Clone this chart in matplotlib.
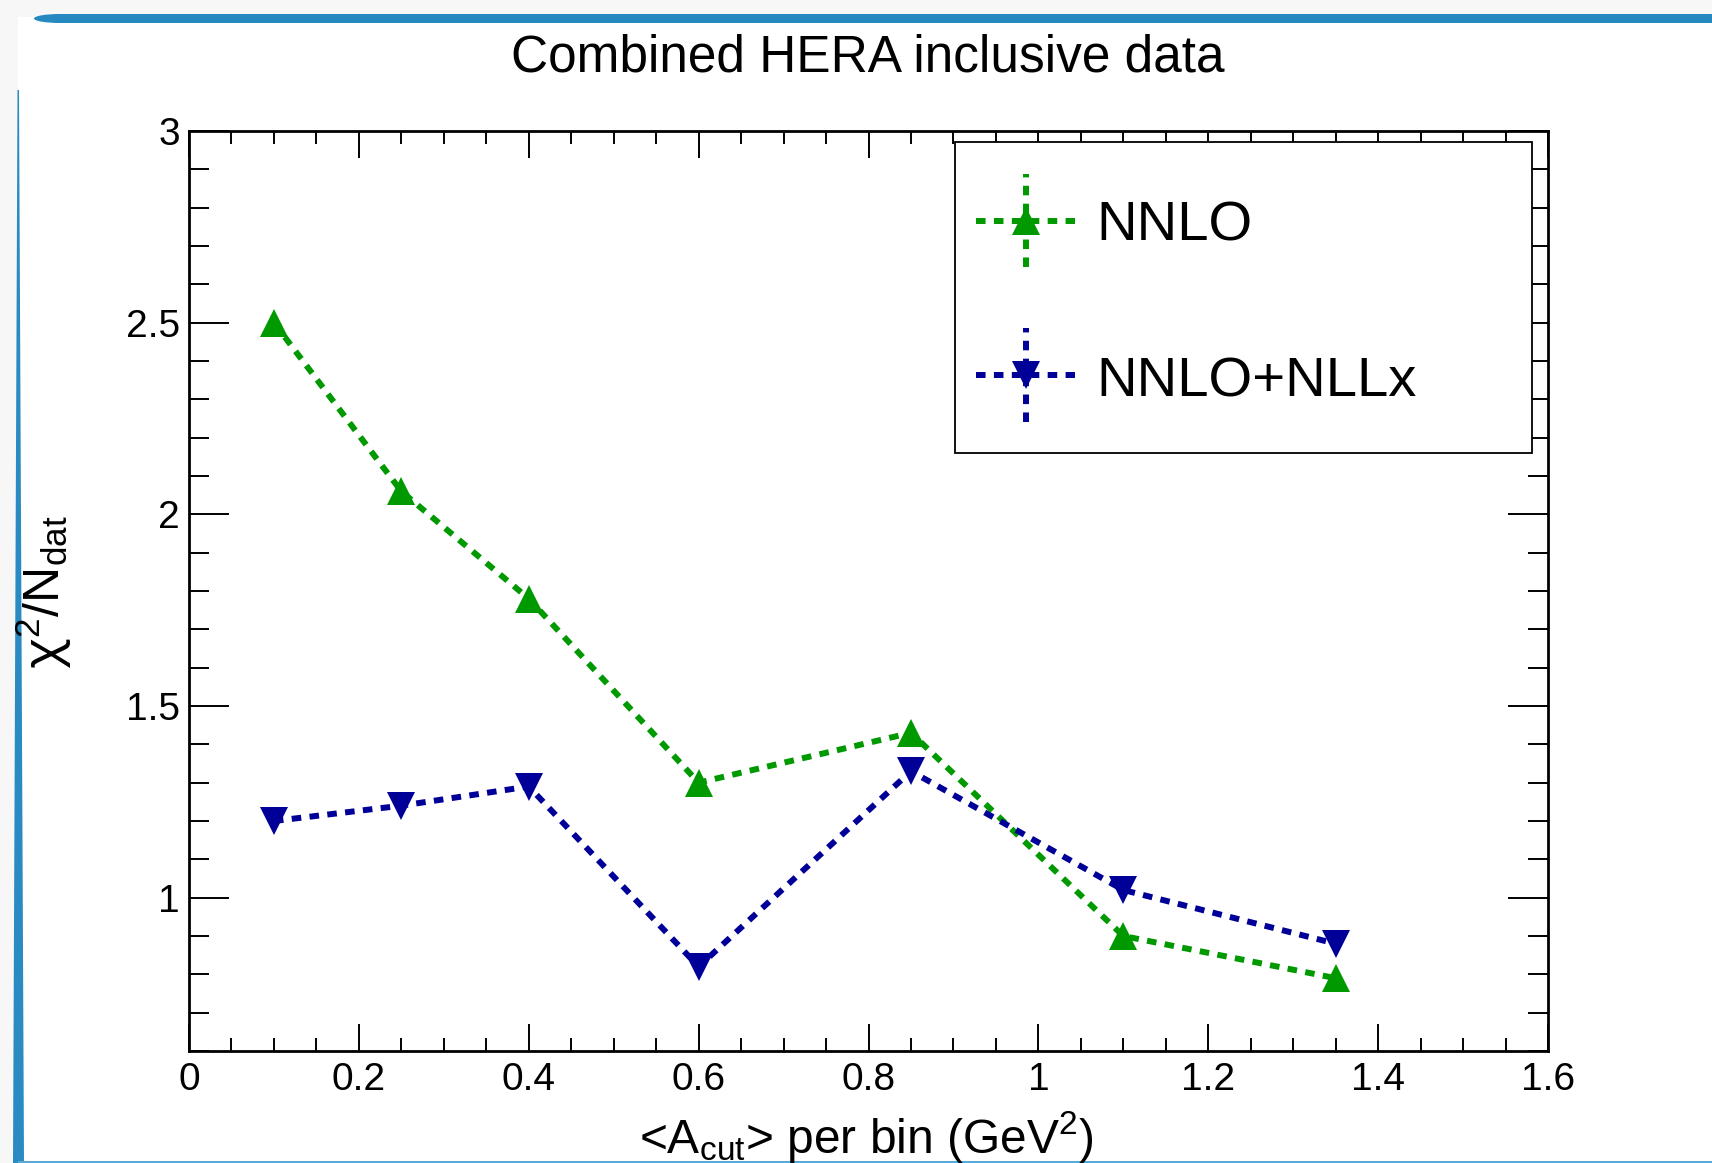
import matplotlib
matplotlib.use("Agg")
import matplotlib.pyplot as plt
from matplotlib.patches import Rectangle, Ellipse, Polygon
from matplotlib.ticker import MultipleLocator

plt.rcParams["font.family"] = ["Liberation Sans", "DejaVu Sans"]
plt.rcParams["mathtext.fontset"] = "custom"
plt.rcParams["mathtext.rm"] = "Liberation Sans"
plt.rcParams["mathtext.it"] = "Noto Sans"
plt.rcParams["mathtext.bf"] = "Liberation Sans:bold"

# values
a_cut = [0.1, 0.25, 0.4, 0.6, 0.85, 1.1, 1.35]
chi2_nnlo = [2.50, 2.06, 1.78, 1.30, 1.43, 0.90, 0.79]
chi2_nllx = [1.20, 1.24, 1.29, 0.82, 1.33, 1.02, 0.88]
labels = ["NNLO", "NNLO+NLLx"]

green = "#009900"
blue = "#000099"
W, H = 1712, 1163

fig = plt.figure(figsize=(W / 100, H / 100), dpi=100)
fig.patch.set_facecolor("#f7f7f7")

# slide frame
fig.add_artist(Rectangle((18 / W, 0), 1 - 18 / W, 1 - 17 / H, transform=fig.transFigure,
                         facecolor="white", edgecolor="none", zorder=0))
fig.add_artist(Rectangle((60 / W, 1 - 23 / H), 1, 9 / H, transform=fig.transFigure,
                         facecolor="#2589c0", edgecolor="none", zorder=1))
fig.add_artist(Ellipse((60 / W, 1 - 18.5 / H), 52 / W, 9 / H, transform=fig.transFigure,
                       facecolor="#2589c0", edgecolor="none", zorder=1))
fig.add_artist(Polygon([(13 / W, 0), (24 / W, 0), (19 / W, 1 - 90 / H), (17.5 / W, 1 - 90 / H)],
                       closed=True, transform=fig.transFigure,
                       facecolor="#2a8ac2", edgecolor="none", zorder=1))
fig.add_artist(Rectangle((18 / W, 0), 1, 2.5 / H, transform=fig.transFigure,
                         facecolor="#5aaad8", edgecolor="none", zorder=1))

ax = fig.add_axes([189 / W, (H - 1051) / H, 1359 / W, 920 / H])
ax.set_zorder(2)

ls = (0, (1.6, 1.4))
lw = 4.3
ax.plot(a_cut, chi2_nnlo, color=green, lw=lw, ls=ls, marker="^", ms=20,
        markeredgewidth=0, dash_capstyle="butt")
ax.plot(a_cut, chi2_nllx, color=blue, lw=lw, ls=ls, marker="v", ms=20,
        markeredgewidth=0, dash_capstyle="butt")

ax.set_xlim(0, 1.6)
ax.set_ylim(0.6, 3.0)
ax.xaxis.set_major_locator(MultipleLocator(0.2))
ax.xaxis.set_minor_locator(MultipleLocator(0.05))
ax.yaxis.set_major_locator(MultipleLocator(0.5))
ax.yaxis.set_minor_locator(MultipleLocator(0.1))
ax.set_xticks([0, 0.2, 0.4, 0.6, 0.8, 1.0, 1.2, 1.4, 1.6])
ax.set_xticklabels(["0", "0.2", "0.4", "0.6", "0.8", "1", "1.2", "1.4", "1.6"])
ax.set_yticks([1.0, 1.5, 2.0, 2.5, 3.0])
ax.set_yticklabels(["1", "1.5", "2", "2.5", "3"])

for s in ax.spines.values():
    s.set_linewidth(2)
ax.tick_params(which="both", direction="in", top=True, right=True, width=1.4)
ax.xaxis.set_tick_params(which="major", length=19.4, labelsize=28, pad=8)
ax.xaxis.set_tick_params(which="minor", length=9.7)
ax.yaxis.set_tick_params(which="major", length=28.8, labelsize=28, pad=6.5)
ax.yaxis.set_tick_params(which="minor", length=14.4)

ax.set_xlabel(r"<A$_{\rm cut}$> per bin (GeV$^{2}$)", fontsize=34.5)
ax.xaxis.label.set_va("baseline")
ax.xaxis.set_label_coords(0.498, -0.111)
ax.set_ylabel(r"$\chi^{2}$/N$_{\rm dat}$", fontsize=36)
ax.yaxis.label.set_rotation_mode("anchor")
ax.yaxis.label.set_va("baseline")
ax.yaxis.set_label_coords(-0.0949, 0.499)

fig.text(868 / W, 1 - 71.7 / H, "Combined HERA inclusive data", fontsize=37,
         ha="center", va="baseline")

# legend box drawn by hand (ROOT style with error-bar cross)
ax.add_patch(Rectangle((0.5636, 0.65), 0.4246, 0.338, transform=ax.transAxes,
                       facecolor="white", edgecolor="black", lw=1.3, zorder=5))
entries = [(labels[0], green, "^", 0.9027, 0.051, 0.8808),
           (labels[1], blue, "v", 0.7348, 0.051, 0.7112)]
for name, col, mk, ym, dy, yb in entries:
    ax.plot([0.579, 0.652], [ym, ym], transform=ax.transAxes, color=col, lw=lw,
            ls=ls, dash_capstyle="butt", zorder=6, clip_on=False)
    ax.plot([0.616, 0.616], [ym - dy, ym + dy], transform=ax.transAxes, color=col,
            lw=lw, ls=ls, dash_capstyle="butt", zorder=6, clip_on=False)
    ax.plot([0.616], [ym], transform=ax.transAxes, color=col, marker=mk, ms=20,
            markeredgewidth=0, zorder=7, clip_on=False)
    ax.text(0.668, yb, name, transform=ax.transAxes, fontsize=40.5, va="baseline",
            ha="left", zorder=7)

fig.savefig("out.png", dpi=100, facecolor=fig.get_facecolor())
